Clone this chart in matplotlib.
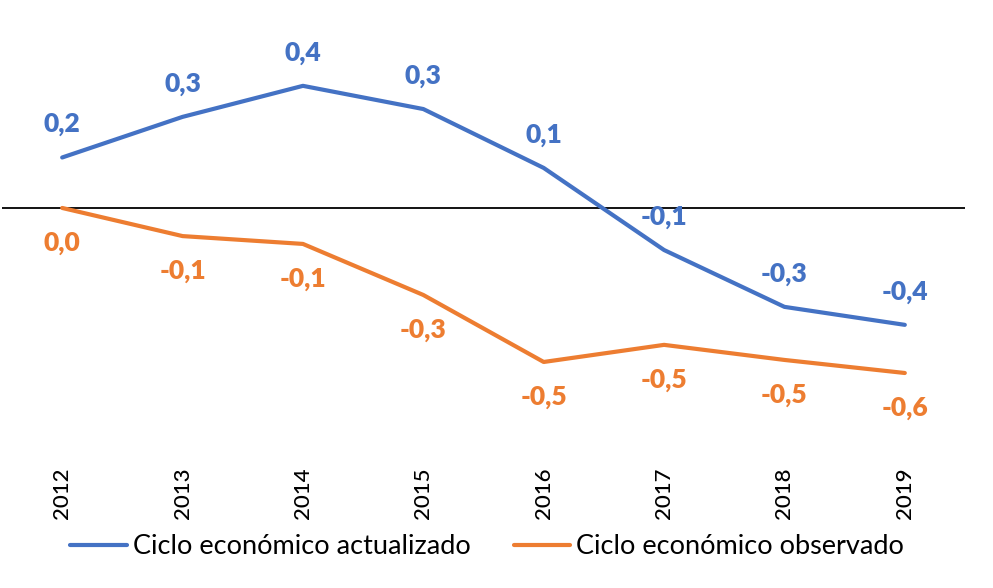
import matplotlib.pyplot as plt
import numpy as np

# data
years = ["2012", "2013", "2014", "2015", "2016", "2017", "2018", "2019"]
ciclo_actualizado = [0.174, 0.314, 0.421, 0.341, 0.138, -0.145, -0.341, -0.403]
ciclo_observado = [0.0, -0.097, -0.124, -0.300, -0.531, -0.472, -0.524, -0.569]
series_names = ["Ciclo económico actualizado", "Ciclo económico observado"]

BLUE = "#4472C4"
ORANGE = "#ED7D31"

plt.rcParams["font.family"] = ["Lato", "DejaVu Sans"]

W, H = 993, 588
fig = plt.figure(figsize=(W / 100, H / 100), dpi=100)
# axes box in pixel terms: x 2..965, y 20..440
ax = fig.add_axes([2 / W, 1 - 440 / H, 963 / W, 420 / H])

x = np.arange(len(years)) + 0.5
ax.set_xlim(0, len(years))
ax.set_ylim(-0.8, 0.648)

ax.axhline(0, color="black", lw=1.3, zorder=1)
l1, = ax.plot(x, ciclo_actualizado, color=BLUE, lw=3, solid_capstyle="round", zorder=3)
l2, = ax.plot(x, ciclo_observado, color=ORANGE, lw=3, solid_capstyle="round", zorder=3)


def fmt(v):
    s = "%.1f" % v
    if s == "-0.0":
        s = "0.0"
    return s.replace(".", ",")


for xi, v in zip(x, ciclo_actualizado):
    ax.annotate(fmt(v), (xi, v), xytext=(0, 24), textcoords="offset points",
                ha="center", va="center", color=BLUE, fontsize=19, fontweight="heavy")
for xi, v in zip(x, ciclo_observado):
    ax.annotate(fmt(v), (xi, v), xytext=(0, -25), textcoords="offset points",
                ha="center", va="center", color=ORANGE, fontsize=19, fontweight="heavy")

ax.set_xticks(x)
ax.set_xticklabels(years, rotation=90, fontsize=16, color="black", fontweight="medium")
ax.tick_params(axis="x", length=0, pad=20)
ax.set_yticks([])
for sp in ax.spines.values():
    sp.set_visible(False)

fig.legend([l1, l2], series_names, loc="center", bbox_to_anchor=(487 / W, 1 - 547 / H),
           ncol=2, frameon=False, fontsize=19.5, handlelength=2.1, handletextpad=0.2,
           columnspacing=1.6)

fig.savefig("out.png", dpi=100)
